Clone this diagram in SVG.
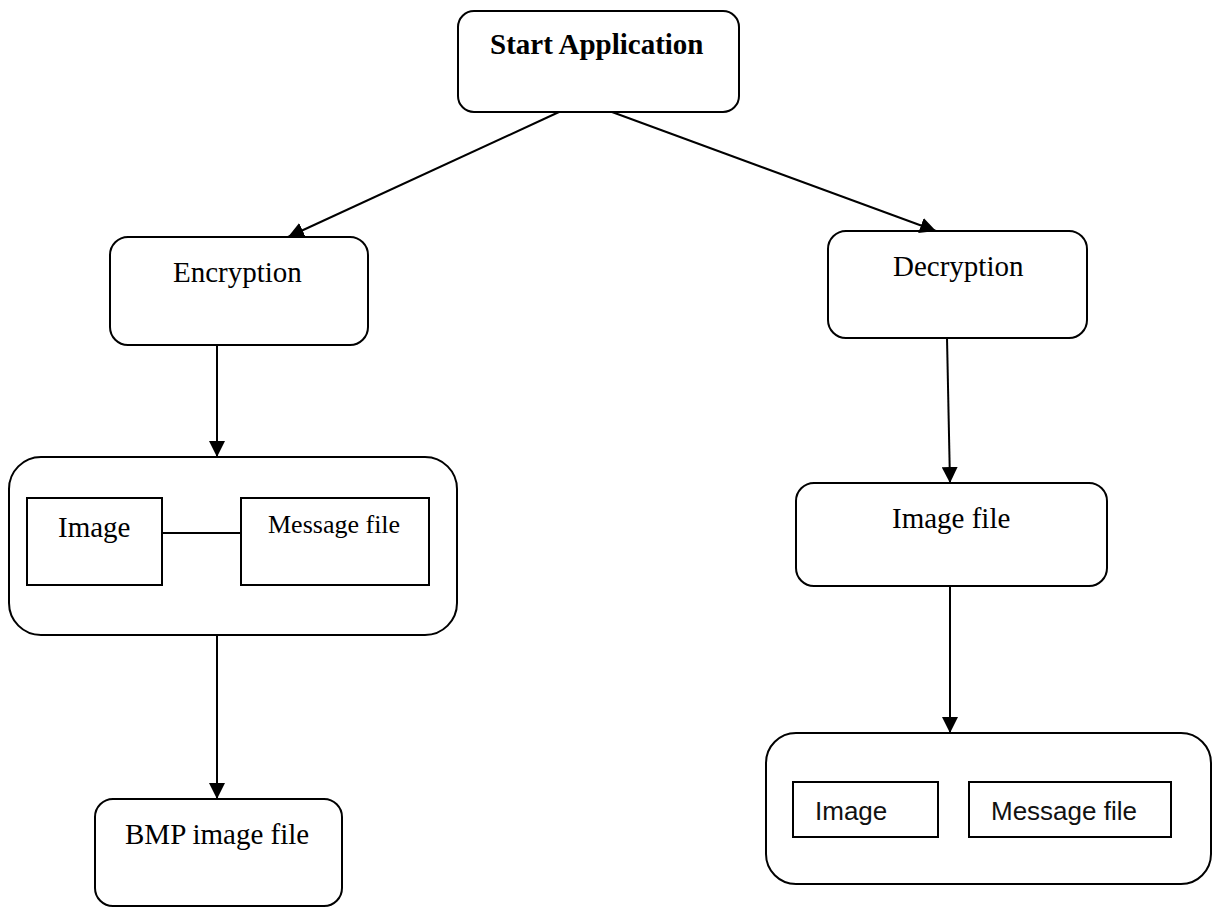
<svg xmlns="http://www.w3.org/2000/svg" width="1213" height="908" viewBox="0 0 1213 908">
<style>
.box{fill:#fff;stroke:#000;stroke-width:2}
.rect{fill:#fff;stroke:#000;stroke-width:2}
.serif{font-family:"Liberation Serif","Times New Roman",serif;font-size:29px;fill:#000}
.sans{font-family:"Liberation Sans",Arial,sans-serif;font-size:26px;fill:#111}
.edge{stroke:#000;stroke-width:2;fill:none;marker-end:url(#arrow)}
.plain{stroke:#000;stroke-width:2;fill:none}
</style>
<defs>
<marker id="arrow" markerUnits="userSpaceOnUse" markerWidth="16" markerHeight="16" viewBox="0 0 16 16" refX="16" refY="8" orient="auto">
<path d="M0,0 L16,8 L0,16 Z" fill="#000"/>
</marker>
</defs>
<rect width="1213" height="908" fill="#fff"/>
<g id="start">
<rect class="box" x="458" y="11" width="281" height="101" rx="16"/>
<text class="serif" x="490" y="54" font-weight="bold">Start Application</text>
</g>
<g id="encryption">
<rect class="box" x="110" y="237" width="258" height="108" rx="18"/>
<text class="serif" x="173" y="282">Encryption</text>
</g>
<g id="decryption">
<rect class="box" x="828" y="231" width="259" height="107" rx="18"/>
<text class="serif" x="893" y="276">Decryption</text>
</g>
<g id="enc-inputs">
<rect class="box" x="9" y="457" width="448" height="178" rx="32"/>
<rect class="rect" x="27" y="498" width="135" height="87"/>
<text class="serif" x="58" y="537">Image</text>
<rect class="rect" x="241" y="498" width="188" height="87"/>
<text class="serif" x="268" y="533" style="font-size:26px">Message file</text>
</g>
<g id="bmp">
<rect class="box" x="95" y="799" width="247" height="107" rx="18"/>
<text class="serif" x="125" y="844">BMP image file</text>
</g>
<g id="image-file">
<rect class="box" x="796" y="483" width="311" height="103" rx="18"/>
<text class="serif" x="892" y="528">Image file</text>
</g>
<g id="dec-outputs">
<rect class="box" x="766" y="733" width="445" height="151" rx="30"/>
<rect class="rect" x="793" y="782" width="145" height="55"/>
<text class="sans" x="815" y="820">Image</text>
<rect class="rect" x="969" y="782" width="202" height="55"/>
<text class="sans" x="991" y="820">Message file</text>
</g>
<g id="connectors">
<line class="edge" x1="559" y1="112" x2="288" y2="237"/>
<line class="edge" x1="612" y1="112" x2="936" y2="231"/>
<line class="edge" x1="217" y1="345" x2="217" y2="457"/>
<line class="edge" x1="947" y1="338" x2="950" y2="483"/>
<line class="edge" x1="217" y1="635" x2="217" y2="799"/>
<line class="edge" x1="950" y1="586" x2="950" y2="733"/>
<line class="plain" x1="162" y1="533" x2="241" y2="533"/>
</g>
</svg>
